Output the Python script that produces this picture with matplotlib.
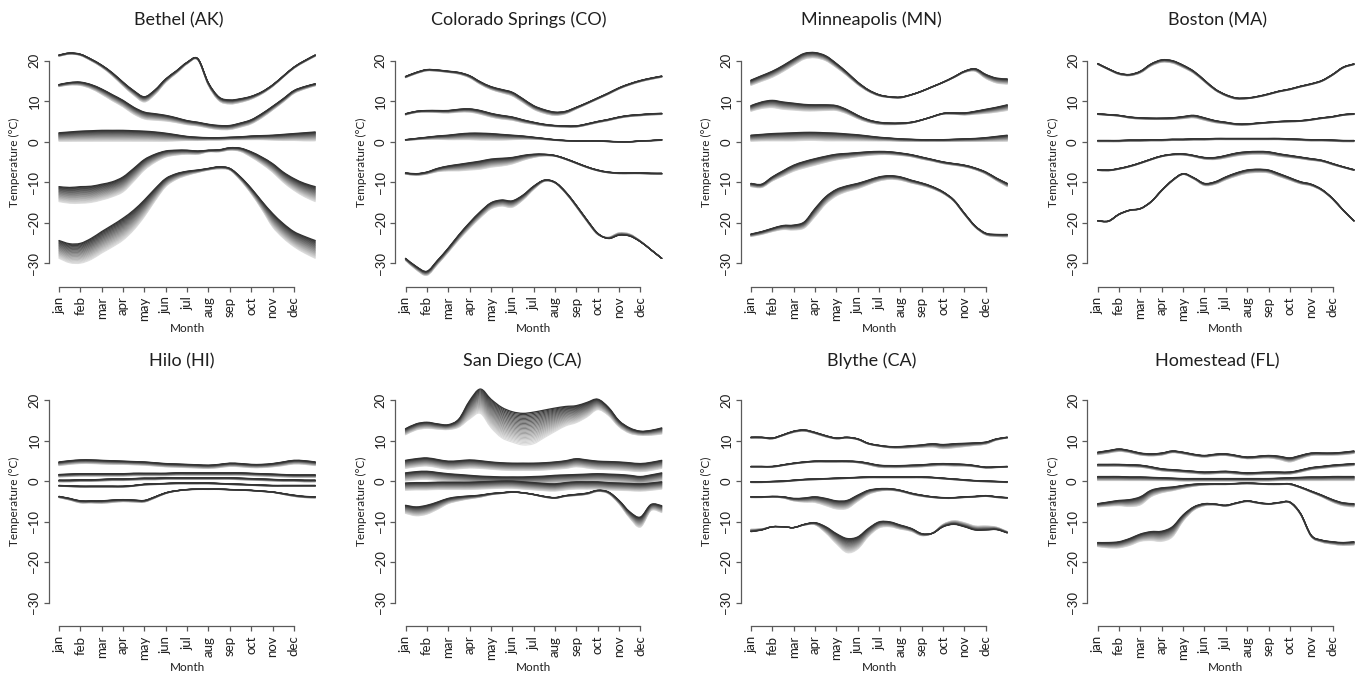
import matplotlib
matplotlib.use("Agg")
import matplotlib.pyplot as plt
from matplotlib.path import Path
from matplotlib.patches import PathPatch

plt.rcParams['font.family'] = ['Lato', 'DejaVu Sans']

months = ["jan", "feb", "mar", "apr", "may", "jun", "jul", "aug", "sep", "oct", "nov", "dec"]
# half-month sample positions (0 = start of January, 12 = end of December)
grid = [0, 0.5, 1, 1.5, 2, 2.5, 3, 3.5, 4, 4.5, 5, 5.5, 6, 6.5, 7, 7.5, 8, 8.5, 9, 9.5, 10, 10.5, 11, 11.5, 12]
yticks = [-30, -20, -10, 0, 10, 20]
cities = ["Bethel (AK)", "Colorado Springs (CO)", "Minneapolis (MN)", "Boston (MA)",
          "Hilo (HI)", "San Diego (CA)", "Blythe (CA)", "Homestead (FL)"]

# darkest (final) curve of each of the five bundles, and the offset of the lightest curve
bethel_lines = [
    [21.4, 21.9, 21.6, 20.4, 18.9, 17.0, 14.7, 12.6, 11.1, 12.8, 15.5, 17.5, 19.6, 20.5, 14.5, 11.0, 10.3, 10.6, 11.2, 12.3, 14.0, 16.2, 18.4, 20.0, 21.4],
    [14.1, 14.6, 14.7, 14.1, 13.0, 11.6, 10.2, 8.5, 7.3, 6.9, 6.5, 5.9, 5.2, 4.8, 4.3, 4.0, 4.0, 4.6, 5.4, 6.9, 8.7, 10.6, 12.6, 13.6, 14.3],
    [2.2, 2.4, 2.6, 2.7, 2.8, 2.8, 2.8, 2.7, 2.6, 2.4, 2.1, 1.7, 1.3, 1.1, 1.0, 1.0, 1.1, 1.2, 1.4, 1.5, 1.6, 1.8, 2.0, 2.2, 2.4],
    [-11.1, -11.3, -11.1, -11.0, -10.5, -9.9, -8.7, -6.6, -4.4, -3.1, -2.3, -2.1, -2.1, -2.3, -2.1, -2.0, -1.5, -1.6, -2.5, -3.8, -5.4, -7.5, -9.1, -10.3, -11.1],
    [-24.4, -25.2, -25.1, -23.9, -22.2, -20.6, -18.9, -16.9, -14.4, -11.6, -9.1, -7.9, -7.3, -7.0, -6.6, -6.2, -6.6, -8.7, -11.5, -14.7, -17.7, -20.2, -22.2, -23.4, -24.4],
]
bethel_spread = [
    [0.3, 0.3, 0.3, 0.4, 0.5, 0.7, 0.9, 1.1, 1.3, 1.1, 0.8, 0.6, 0.4, 0.3, 0.6, 0.9, 1.0, 0.9, 0.7, 0.5, 0.4, 0.3, 0.3, 0.3, 0.3],
    [0.5, 0.6, 0.8, 1.0, 1.3, 1.5, 1.6, 1.7, 1.7, 1.6, 1.4, 1.2, 1.0, 0.9, 0.9, 1.0, 1.0, 1.0, 1.0, 1.0, 0.9, 0.8, 0.7, 0.6, 0.5],
    [2.1, 2.3, 2.5, 2.6, 2.7, 2.7, 2.7, 2.6, 2.5, 2.3, 2.0, 1.5, 1.0, 0.8, 0.6, 0.6, 0.6, 0.7, 0.9, 1.0, 1.2, 1.5, 1.7, 2.0, 2.2],
    [3.7, 3.9, 4.1, 4.0, 3.9, 3.7, 3.7, 3.2, 2.6, 2.0, 1.5, 1.2, 1.0, 0.8, 0.4, 0.5, 0.6, 0.8, 1.3, 1.7, 2.1, 2.5, 2.9, 3.3, 3.7],
    [4.4, 4.7, 4.9, 5.2, 5.3, 5.4, 5.4, 4.9, 4.1, 3.0, 2.0, 1.4, 1.0, 0.6, 0.4, 0.5, 0.4, 0.8, 1.3, 2.0, 3.3, 3.6, 3.7, 4.1, 4.4],
]

colorado_lines = [
    [16.1, 17.1, 17.8, 17.7, 17.4, 17.1, 16.3, 14.8, 13.6, 12.9, 12.2, 10.6, 8.9, 7.9, 7.3, 7.5, 8.5, 9.6, 10.8, 12.0, 13.3, 14.3, 15.1, 15.7, 16.2],
    [6.9, 7.5, 7.7, 7.7, 7.7, 8.0, 8.1, 7.7, 7.0, 6.5, 6.1, 5.4, 4.8, 4.3, 4.0, 3.9, 3.9, 4.4, 5.0, 5.5, 6.1, 6.5, 6.7, 6.9, 7.0],
    [0.5, 0.8, 1.1, 1.4, 1.6, 1.9, 2.1, 2.1, 2.0, 1.8, 1.6, 1.4, 1.1, 0.8, 0.5, 0.3, 0.2, 0.2, 0.2, 0.1, 0.0, 0.0, 0.2, 0.3, 0.5],
    [-7.7, -7.9, -7.5, -6.6, -6.0, -5.6, -5.2, -4.8, -4.3, -4.1, -3.9, -3.4, -3.1, -3.1, -3.4, -4.2, -5.2, -6.2, -7.0, -7.5, -7.7, -7.7, -7.7, -7.8, -7.8],
    [-28.8, -30.8, -32.0, -29.3, -26.3, -23.0, -20.0, -17.3, -15.1, -14.4, -14.6, -13.2, -11.0, -9.5, -10.0, -12.4, -15.7, -19.3, -22.6, -23.9, -23.1, -23.3, -24.7, -26.7, -28.8],
]
colorado_spread = [
    [0.3, 0.3, 0.3, 0.3, 0.3, 0.4, 0.5, 0.6, 0.7, 0.8, 0.9, 0.9, 0.9, 0.9, 0.8, 0.6, 0.4, 0.3, 0.3, 0.3, 0.3, 0.3, 0.3, 0.3, 0.3],
    [0.3, 0.3, 0.4, 0.5, 0.6, 0.7, 0.8, 0.9, 0.9, 0.9, 0.8, 0.7, 0.5, 0.4, 0.3, 0.3, 0.3, 0.3, 0.3, 0.3, 0.3, 0.3, 0.3, 0.3, 0.3],
    [0.2, 0.3, 0.5, 0.8, 1.1, 1.4, 1.6, 1.7, 1.6, 1.4, 1.1, 0.8, 0.5, 0.3, 0.2, 0.1, 0.1, 0.1, 0.1, 0.1, 0.1, 0.1, 0.1, 0.1, 0.2],
    [0.3, 0.4, 0.5, 0.8, 1.2, 1.6, 1.8, 2.0, 2.0, 1.9, 1.6, 1.2, 0.8, 0.4, 0.2, 0.2, 0.2, 0.2, 0.2, 0.2, 0.2, 0.2, 0.2, 0.2, 0.3],
    [0.5, 0.8, 1.0, 1.0, 1.0, 1.2, 1.4, 1.5, 1.5, 1.5, 1.6, 1.2, 0.8, 0.3, 0.2, 0.3, 0.4, 0.4, 0.3, -0.3, -0.6, -0.5, -0.2, 0.0, 0.0],
]

minneapolis_lines = [
    [15.2, 16.3, 17.4, 18.8, 20.4, 21.8, 22.0, 21.2, 19.3, 17.1, 14.7, 12.8, 11.6, 11.1, 11.0, 11.6, 12.5, 13.6, 14.7, 16.0, 17.4, 18.0, 16.6, 15.7, 15.5],
    [8.9, 9.8, 10.2, 9.8, 9.5, 9.2, 9.1, 9.1, 8.9, 7.9, 6.5, 5.4, 4.8, 4.6, 4.6, 4.8, 5.4, 6.2, 7.0, 7.1, 7.1, 7.5, 8.0, 8.5, 9.1],
    [1.6, 1.8, 2.0, 2.1, 2.2, 2.3, 2.3, 2.2, 2.1, 1.9, 1.7, 1.4, 1.1, 0.9, 0.7, 0.6, 0.5, 0.5, 0.5, 0.6, 0.7, 0.8, 1.0, 1.3, 1.6],
    [-10.3, -10.5, -8.7, -7.2, -5.8, -4.9, -4.2, -3.6, -3.1, -2.9, -2.7, -2.5, -2.4, -2.5, -2.8, -3.2, -3.8, -4.4, -5.0, -5.4, -5.8, -6.5, -7.5, -9.0, -10.3],
    [-22.8, -22.2, -21.4, -20.7, -20.6, -19.8, -16.5, -13.6, -11.8, -10.9, -10.3, -9.5, -8.7, -8.4, -8.7, -9.5, -10.2, -11.1, -12.4, -14.4, -17.7, -20.8, -22.6, -22.9, -22.9],
]
minneapolis_spread = [
    [1.3, 1.4, 1.5, 1.5, 1.5, 1.4, 1.3, 1.2, 1.0, 0.8, 0.6, 0.4, 0.3, 0.2, 0.2, 0.1, 0.1, 0.1, 0.1, 0.2, 0.3, 0.6, 1.0, 1.2, 1.3],
    [1.4, 1.6, 1.8, 1.8, 1.7, 1.6, 1.5, 1.4, 1.2, 1.0, 0.8, 0.6, 0.5, 0.4, 0.3, 0.2, 0.1, 0.1, 0.2, 0.3, 0.5, 0.7, 1.0, 1.2, 1.4],
    [1.5, 1.6, 1.8, 1.9, 2.0, 2.0, 2.0, 2.0, 1.9, 1.7, 1.5, 1.2, 0.9, 0.7, 0.6, 0.5, 0.4, 0.4, 0.4, 0.5, 0.6, 0.7, 0.9, 1.2, 1.5],
    [0.8, 0.8, 1.0, 1.3, 1.5, 1.6, 1.6, 1.5, 1.4, 1.2, 1.0, 0.9, 0.8, 0.7, 0.6, 0.5, 0.5, 0.4, 0.4, 0.4, 0.4, 0.4, 0.5, 0.6, 0.8],
    [0.6, 0.7, 0.8, 1.0, 1.2, 1.5, 2.0, 1.8, 1.6, 1.4, 1.3, 1.1, 1.0, 0.9, 0.8, 0.7, 0.6, 0.5, 0.4, 0.3, 0.3, 0.3, 0.4, 0.5, 0.6],
]

boston_lines = [
    [19.3, 18.0, 16.9, 16.6, 17.4, 19.2, 20.2, 20.0, 18.9, 17.4, 15.2, 13.0, 11.6, 10.8, 10.8, 11.2, 11.8, 12.5, 13.0, 13.7, 14.3, 15.1, 16.6, 18.4, 19.2],
    [6.9, 6.7, 6.5, 6.1, 5.9, 5.8, 5.8, 5.9, 6.2, 6.5, 5.9, 5.2, 4.8, 4.4, 4.4, 4.6, 4.8, 5.0, 5.1, 5.2, 5.5, 5.9, 6.2, 6.7, 6.9],
    [0.3, 0.3, 0.3, 0.4, 0.4, 0.5, 0.5, 0.6, 0.6, 0.7, 0.7, 0.8, 0.8, 0.8, 0.8, 0.8, 0.8, 0.8, 0.7, 0.6, 0.5, 0.5, 0.4, 0.3, 0.3],
    [-6.9, -7.0, -6.6, -6.0, -5.2, -4.3, -3.5, -3.1, -3.0, -3.4, -3.9, -3.9, -3.4, -2.8, -2.5, -2.4, -2.5, -3.0, -3.4, -3.8, -4.2, -4.6, -5.4, -6.2, -6.9],
    [-19.5, -19.6, -17.9, -16.9, -16.5, -14.8, -12.0, -9.5, -7.9, -8.9, -10.3, -9.9, -8.7, -7.7, -7.0, -6.8, -7.0, -7.9, -8.9, -9.9, -10.5, -11.8, -14.0, -16.9, -19.5],
]
boston_spread = [
    [0.2, 0.2, 0.3, 0.3, 0.4, 0.5, 0.6, 0.6, 0.6, 0.5, 0.4, 0.3, 0.3, 0.3, 0.2, 0.2, 0.2, 0.2, 0.2, 0.2, 0.2, 0.2, 0.2, 0.2, 0.2],
    [0.2, 0.2, 0.2, 0.3, 0.3, 0.3, 0.3, 0.4, 0.5, 0.6, 0.6, 0.5, 0.4, 0.3, 0.3, 0.2, 0.2, 0.2, 0.2, 0.2, 0.2, 0.2, 0.2, 0.2, 0.2],
    [0.3, 0.3, 0.3, 0.3, 0.3, 0.3, 0.3, 0.3, 0.3, 0.3, 0.3, 0.3, 0.3, 0.3, 0.3, 0.3, 0.3, 0.3, 0.3, 0.3, 0.3, 0.3, 0.3, 0.3, 0.3],
    [0.2, 0.2, 0.2, 0.2, 0.2, 0.2, 0.2, 0.2, 0.3, 0.3, 0.4, 0.5, 0.6, 0.7, 0.7, 0.7, 0.7, 0.6, 0.5, 0.4, 0.4, 0.3, 0.3, 0.2, 0.2],
    [0.1, 0.1, 0.1, 0.1, 0.1, 0.1, 0.1, 0.2, 0.2, 0.3, 0.5, 0.6, 0.7, 0.8, 0.8, 0.8, 0.7, 0.7, 0.6, 0.5, 0.4, 0.3, 0.2, 0.1, 0.1],
]

hilo_lines = [
    [4.7, 5.0, 5.2, 5.2, 5.1, 5.0, 4.9, 4.8, 4.7, 4.5, 4.3, 4.2, 4.1, 4.0, 3.9, 4.1, 4.4, 4.3, 4.1, 4.1, 4.3, 4.7, 5.1, 5.0, 4.7],
    [1.6, 1.7, 1.8, 1.8, 1.8, 1.8, 1.8, 1.9, 1.9, 1.9, 1.9, 2.0, 2.0, 2.0, 2.0, 2.0, 2.0, 2.0, 1.9, 1.8, 1.7, 1.6, 1.5, 1.5, 1.5],
    [0.2, 0.2, 0.3, 0.3, 0.4, 0.5, 0.5, 0.6, 0.7, 0.7, 0.8, 0.8, 0.8, 0.8, 0.8, 0.8, 0.8, 0.7, 0.6, 0.5, 0.4, 0.3, 0.3, 0.2, 0.2],
    [-1.1, -1.2, -1.3, -1.3, -1.3, -1.3, -1.3, -1.1, -0.8, -0.7, -0.6, -0.5, -0.5, -0.5, -0.5, -0.6, -0.7, -0.8, -0.9, -1.0, -1.1, -1.1, -1.1, -1.1, -1.1],
    [-3.8, -4.3, -4.9, -4.9, -4.9, -4.7, -4.6, -4.7, -4.8, -3.9, -2.9, -2.4, -2.1, -2.0, -2.0, -2.0, -2.1, -2.2, -2.3, -2.5, -2.7, -3.1, -3.5, -3.8, -3.9],
]
hilo_spread = [
    [0.9, 0.9, 0.9, 0.9, 0.9, 0.9, 0.8, 0.8, 0.8, 0.8, 0.8, 0.8, 0.8, 0.8, 0.8, 0.8, 0.8, 0.8, 0.8, 0.8, 0.8, 0.9, 0.9, 0.9, 0.9],
    [0.6, 0.6, 0.6, 0.6, 0.6, 0.6, 0.6, 0.6, 0.6, 0.6, 0.6, 0.6, 0.6, 0.6, 0.6, 0.6, 0.6, 0.6, 0.6, 0.6, 0.6, 0.6, 0.6, 0.6, 0.6],
    [0.4, 0.4, 0.4, 0.4, 0.4, 0.4, 0.4, 0.4, 0.4, 0.4, 0.4, 0.4, 0.4, 0.4, 0.4, 0.4, 0.4, 0.4, 0.4, 0.4, 0.4, 0.4, 0.4, 0.4, 0.4],
    [0.2, 0.2, 0.2, 0.2, 0.2, 0.2, 0.2, 0.2, 0.2, 0.2, 0.2, 0.2, 0.2, 0.2, 0.2, 0.2, 0.2, 0.2, 0.2, 0.2, 0.2, 0.2, 0.2, 0.2, 0.2],
    [0.3, 0.4, 0.5, 0.5, 0.6, 0.6, 0.5, 0.5, 0.4, 0.3, 0.2, 0.1, 0.1, 0.1, 0.1, 0.1, 0.1, 0.1, 0.1, 0.1, 0.1, 0.2, 0.3, 0.3, 0.3],
]

sandiego_lines = [
    [12.9, 14.1, 14.5, 14.1, 13.9, 15.3, 19.8, 22.7, 20.2, 18.2, 17.1, 16.7, 17.0, 17.5, 18.0, 18.4, 18.6, 19.4, 20.2, 18.2, 14.9, 13.1, 12.3, 12.5, 13.1],
    [5.1, 5.5, 5.7, 5.3, 4.9, 5.0, 5.2, 5.0, 4.7, 4.5, 4.4, 4.4, 4.4, 4.5, 4.7, 5.0, 5.5, 5.2, 4.9, 4.8, 4.7, 4.5, 4.3, 4.6, 5.1],
    [2.0, 2.3, 2.4, 2.1, 1.8, 1.6, 1.4, 1.2, 1.1, 1.0, 1.0, 1.0, 1.1, 1.2, 1.4, 1.5, 1.6, 1.7, 1.8, 1.7, 1.6, 1.4, 1.1, 1.5, 2.0],
    [-0.5, -0.4, -0.4, -0.3, -0.3, -0.3, -0.3, -0.2, -0.1, 0.0, 0.0, -0.2, -0.4, -0.6, -0.7, -0.4, -0.2, -0.2, -0.2, -0.4, -0.5, -0.6, -0.7, -0.5, -0.2],
    [-6.0, -6.4, -6.0, -5.2, -4.3, -3.9, -3.7, -3.5, -3.1, -2.9, -2.7, -2.9, -3.3, -3.8, -4.1, -3.6, -3.3, -3.0, -2.3, -2.7, -4.8, -7.6, -8.9, -5.8, -6.1],
]
sandiego_spread = [
    [1.5, 1.5, 1.5, 1.3, 1.2, 2.0, 4.5, 6.0, 7.0, 7.5, 7.5, 7.8, 7.8, 6.8, 5.8, 4.8, 4.2, 3.6, 2.6, 2.0, 1.5, 1.3, 1.0, 1.2, 1.5],
    [2.0, 2.0, 2.0, 2.0, 2.0, 2.0, 2.0, 1.9, 1.8, 1.8, 1.8, 1.8, 1.8, 1.8, 1.8, 1.9, 2.0, 2.0, 2.0, 2.0, 2.0, 2.0, 2.0, 2.0, 2.0],
    [2.0, 2.0, 2.0, 2.0, 2.0, 2.0, 2.0, 2.0, 2.0, 2.0, 2.0, 2.0, 2.0, 2.0, 2.0, 2.0, 2.0, 2.0, 2.0, 2.0, 2.0, 2.0, 2.0, 2.0, 2.0],
    [1.8, 1.8, 1.8, 1.8, 1.8, 1.8, 1.8, 1.8, 1.8, 1.8, 1.8, 1.8, 1.8, 1.8, 1.8, 1.8, 1.8, 1.8, 1.8, 1.8, 1.8, 1.8, 1.8, 1.8, 1.8],
    [2.0, 2.2, 2.2, 1.8, 1.3, 1.0, 0.7, 0.5, 0.3, 0.2, 0.1, 0.1, 0.1, 0.2, 0.2, 0.2, 0.3, 0.3, 0.3, 0.4, 0.8, 1.5, 2.5, 1.5, 1.7],
]

blythe_lines = [
    [10.8, 10.8, 10.6, 11.4, 12.3, 12.6, 12.0, 11.2, 10.6, 10.8, 10.4, 9.3, 8.8, 8.5, 8.5, 8.7, 8.9, 9.2, 9.0, 9.2, 9.3, 9.4, 9.6, 10.4, 10.8],
    [3.6, 3.6, 3.6, 4.0, 4.4, 4.7, 4.9, 4.9, 4.9, 4.9, 4.8, 4.4, 3.9, 3.8, 3.8, 3.9, 4.0, 4.2, 4.3, 4.2, 4.1, 3.8, 3.4, 3.5, 3.6],
    [-0.2, -0.2, -0.1, 0.0, 0.2, 0.4, 0.5, 0.6, 0.7, 0.8, 0.9, 1.0, 1.0, 1.0, 1.0, 1.0, 1.0, 0.9, 0.7, 0.5, 0.3, 0.1, 0.0, -0.1, -0.2],
    [-3.9, -3.9, -3.8, -3.9, -4.3, -4.2, -3.9, -4.3, -4.9, -4.8, -3.5, -2.3, -1.9, -1.9, -2.3, -3.0, -3.5, -3.9, -4.1, -4.1, -3.9, -3.8, -3.6, -3.9, -4.1],
    [-12.5, -12.1, -11.3, -11.3, -11.5, -10.7, -10.3, -11.3, -13.0, -14.2, -13.8, -11.7, -10.1, -10.1, -10.9, -11.7, -13.0, -12.9, -11.3, -10.7, -11.3, -12.1, -12.1, -12.0, -12.8],
]
blythe_spread = [
    [0.2, 0.2, 0.2, 0.2, 0.3, 0.3, 0.3, 0.3, 0.2, 0.2, 0.2, 0.2, 0.2, 0.3, 0.4, 0.5, 0.6, 0.8, 1.0, 1.0, 0.8, 0.6, 0.5, 0.3, 0.2],
    [0.2, 0.2, 0.2, 0.2, 0.2, 0.2, 0.2, 0.2, 0.2, 0.2, 0.3, 0.4, 0.5, 0.5, 0.5, 0.5, 0.5, 0.5, 0.5, 0.5, 0.4, 0.3, 0.2, 0.2, 0.2],
    [0.2, 0.2, 0.2, 0.2, 0.2, 0.2, 0.2, 0.2, 0.2, 0.2, 0.2, 0.2, 0.2, 0.2, 0.2, 0.2, 0.2, 0.2, 0.2, 0.2, 0.2, 0.2, 0.2, 0.2, 0.2],
    [0.2, 0.2, 0.2, 0.3, 0.6, 1.0, 1.4, 1.8, 2.0, 2.0, 1.5, 1.0, 0.6, 0.4, 0.3, 0.3, 0.3, 0.2, 0.2, 0.2, 0.2, 0.2, 0.2, 0.2, 0.2],
    [-0.6, -0.3, 0.0, 0.0, 0.0, 0.2, 0.5, 1.5, 2.5, 3.5, 3.0, 2.0, 1.5, 1.2, 1.0, 0.7, 0.5, 0.0, -0.6, -0.9, -1.0, -1.0, -1.0, -0.6, -0.3],
]

homestead_lines = [
    [7.1, 7.5, 7.9, 7.5, 6.9, 6.7, 6.9, 7.4, 7.1, 6.6, 6.3, 6.6, 6.7, 6.3, 5.9, 6.1, 6.3, 6.1, 5.7, 6.3, 6.9, 6.9, 6.9, 7.1, 7.4],
    [4.1, 4.1, 4.1, 4.0, 3.9, 3.5, 3.0, 2.8, 2.6, 2.4, 2.2, 2.3, 2.4, 2.2, 2.0, 2.1, 2.2, 2.2, 2.2, 2.7, 3.3, 3.6, 3.9, 4.1, 4.3],
    [1.1, 1.1, 1.1, 1.0, 1.0, 0.9, 0.8, 0.7, 0.6, 0.6, 0.6, 0.6, 0.6, 0.6, 0.6, 0.6, 0.6, 0.7, 0.8, 0.9, 1.0, 1.0, 1.1, 1.1, 1.1],
    [-5.6, -5.2, -4.8, -4.6, -3.9, -2.3, -1.7, -1.5, -1.1, -0.8, -0.7, -0.7, -0.7, -0.6, -0.5, -0.6, -0.7, -0.7, -0.7, -1.5, -2.5, -3.5, -4.6, -5.4, -5.6],
    [-15.2, -15.2, -15.0, -14.2, -13.1, -12.5, -12.4, -11.3, -8.4, -6.4, -5.6, -5.7, -6.0, -5.4, -4.9, -5.3, -5.6, -5.3, -5.2, -8.0, -13.4, -14.6, -15.0, -15.2, -15.0],
]
homestead_spread = [
    [0.6, 0.6, 0.6, 0.5, 0.5, 0.5, 0.5, 0.4, 0.4, 0.4, 0.4, 0.4, 0.4, 0.4, 0.4, 0.5, 0.6, 0.8, 1.0, 0.8, 0.6, 0.5, 0.5, 0.6, 0.6],
    [0.5, 0.5, 0.5, 0.5, 0.5, 0.5, 0.5, 0.5, 0.5, 0.5, 0.5, 0.5, 0.5, 0.5, 0.5, 0.5, 0.5, 0.5, 0.5, 0.5, 0.5, 0.5, 0.5, 0.5, 0.5],
    [1.0, 1.0, 1.0, 0.9, 0.9, 0.8, 0.7, 0.6, 0.6, 0.6, 0.6, 0.6, 0.6, 0.6, 0.6, 0.6, 0.6, 0.6, 0.7, 0.8, 0.9, 0.9, 1.0, 1.0, 1.0],
    [0.8, 1.0, 1.3, 1.7, 2.0, 1.6, 1.2, 0.9, 0.7, 0.5, 0.3, 0.2, 0.2, 0.2, 0.2, 0.2, 0.2, 0.2, 0.2, 0.2, 0.3, 0.4, 0.6, 0.7, 0.8],
    [1.0, 1.3, 1.5, 1.7, 1.8, 2.2, 2.5, 2.5, 1.5, 0.8, 0.5, 0.2, 0.2, 0.2, 0.2, 0.2, 0.2, 0.2, 0.2, 0.3, 0.3, 0.5, 0.6, 0.7, 0.8],
]

city_lines = [bethel_lines, colorado_lines, minneapolis_lines, boston_lines,
              hilo_lines, sandiego_lines, blythe_lines, homestead_lines]
city_spread = [bethel_spread, colorado_spread, minneapolis_spread, boston_spread,
               hilo_spread, sandiego_spread, blythe_spread, homestead_spread]

# ---------------- layout (pixels) ----------------
W, H = 1363, 675
fig = plt.figure(figsize=(W / 100, H / 100), dpi=100)

data_start_px = [59, 405.5, 751, 1097.7]
month_px = 21.35
title_x_px = [[179, 519, 871, 1218], [182, 522, 872, 1217]]
title_y_px = [20, 361]
y20_px = [60.7, 400.0]
unit_px = 4.05
XLO, XHI = -0.48, 12.48
YLO, YHI = -35.8, 24.2
TEXT = '#1f1f1f'
AXC = '#5a5a5a'

N_SHADES = 26


def smooth_path(xs, ys):
    """Cubic Bezier path through the points (Catmull-Rom style tangents)."""
    n = len(xs)
    verts = [(xs[0], ys[0])]
    codes = [Path.MOVETO]
    for i in range(n - 1):
        i0 = max(i - 1, 0)
        i3 = min(i + 2, n - 1)
        c1 = (xs[i] + (xs[i + 1] - xs[i0]) / 6.0, ys[i] + (ys[i + 1] - ys[i0]) / 6.0)
        c2 = (xs[i + 1] - (xs[i3] - xs[i]) / 6.0, ys[i + 1] - (ys[i3] - ys[i]) / 6.0)
        verts += [c1, c2, (xs[i + 1], ys[i + 1])]
        codes += [Path.CURVE4, Path.CURVE4, Path.CURVE4]
    return Path(verts, codes)


for idx, name in enumerate(cities):
    r, c = divmod(idx, 4)
    left_px = data_start_px[c] + XLO * month_px
    width_px = (XHI - XLO) * month_px
    top_px = y20_px[r] - (YHI - 20) * unit_px
    height_px = (YHI - YLO) * unit_px
    ax = fig.add_axes([left_px / W, 1 - (top_px + height_px) / H, width_px / W, height_px / H])
    ax.set_xlim(XLO, XHI)
    ax.set_ylim(YLO, YHI)

    for dark, spread in zip(city_lines[idx], city_spread[idx]):
        for k in range(N_SHADES):
            t = k / (N_SHADES - 1)
            ys = [d - s * (1 - t) for d, s in zip(dark, spread)]
            g = 0.88 - 0.68 * t
            ax.add_patch(PathPatch(smooth_path(grid, ys), fill=False,
                                   edgecolor=(g, g, g), lw=0.8 if k < N_SHADES - 1 else 0.95,
                                   capstyle='round', joinstyle='round'))

    for s in ['top', 'right']:
        ax.spines[s].set_visible(False)
    ax.spines['left'].set_bounds(-30, 20)
    ax.spines['bottom'].set_bounds(0, 11)
    for s in ['left', 'bottom']:
        ax.spines[s].set_color(AXC)
        ax.spines[s].set_linewidth(0.9)
    ax.set_yticks(yticks)
    ax.set_yticklabels([str(v).replace('-', '\u2212') for v in yticks])
    ax.set_xticks(range(12))
    ax.set_xticklabels(months)
    ax.tick_params(axis='both', direction='out', length=3.5, width=0.9, color=AXC,
                   labelcolor=TEXT, labelsize=9.5)
    ax.tick_params(axis='y', pad=2.5)
    ax.tick_params(axis='x', pad=3.5)
    for lab in ax.get_yticklabels():
        lab.set_rotation(90)
        lab.set_va('center')
    for lab in ax.get_xticklabels():
        lab.set_rotation(90)
        lab.set_ha('center')
        lab.set_va('top')

    ax.text(-34 / width_px, (-5 - YLO) / (YHI - YLO), 'Temperature (\u00b0C)',
            transform=ax.transAxes, rotation=90, ha='center', va='center',
            fontsize=8.5, color=TEXT)
    ax.text(0.5, -42 / height_px, 'Month', transform=ax.transAxes,
            ha='center', va='center', fontsize=8.5, color=TEXT)

    fig.text(title_x_px[r][c] / W, 1 - title_y_px[r] / H, name, ha='center', va='center',
             fontsize=13, color=TEXT)

fig.savefig('out.png', dpi=100, facecolor='white')
